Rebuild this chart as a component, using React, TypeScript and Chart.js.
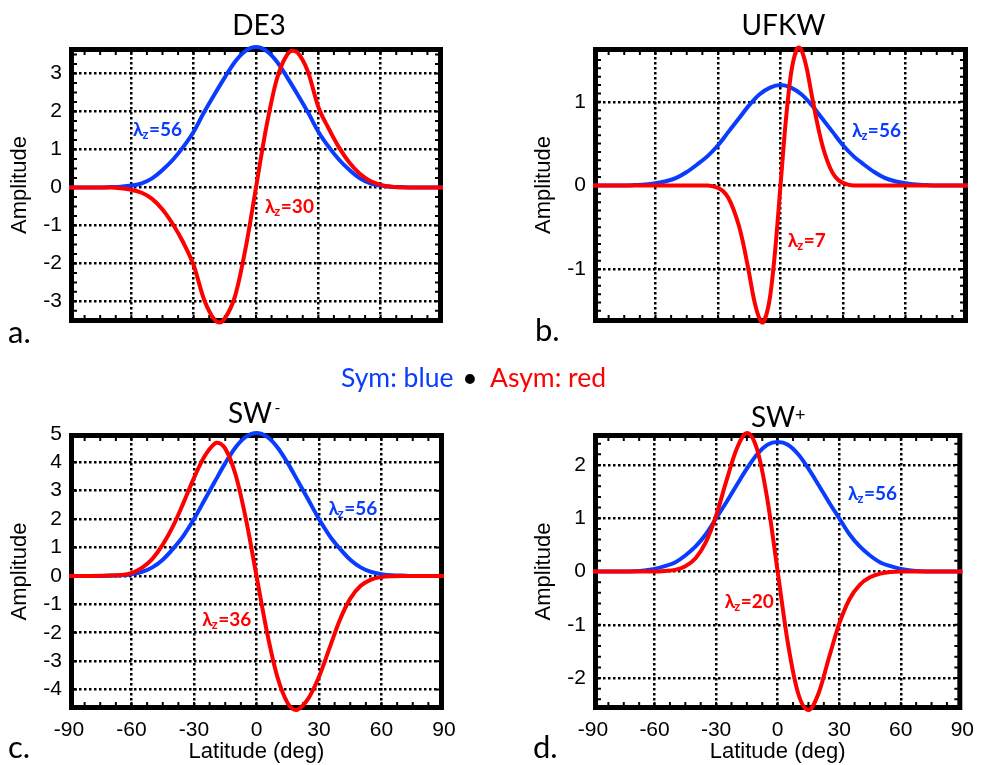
import { useEffect, useRef } from 'react';
import { Chart, registerables } from 'chart.js';

Chart.register(...registerables);

const BLUE = '#0a3cff';
const RED = '#ff0000';
const SANS = 'Lato, "Noto Sans", sans-serif';
const AXIS_FONT = '"Liberation Sans", Arial, sans-serif';
const Y_AXIS_W = 62;

// ---- axis ticks ----
const latTicks = [-90, -60, -30, 0, 30, 60, 90];
const ampTicksDE3 = [-3, -2, -1, 0, 1, 2, 3];
const ampTicksUFKW = [-1, 0, 1];
const ampTicksSWm = [-4, -3, -2, -1, 0, 1, 2, 3, 4, 5];
const ampTicksSWp = [-2, -1, 0, 1, 2];

// ---- symmetric profiles (λz = 56), sampled every 5° ----
const latSym = [-90, -85, -80, -75, -70, -65, -60, -55, -50, -45, -40, -35, -30, -25, -20, -15, -10, -5, 0,
  5, 10, 15, 20, 25, 30, 35, 40, 45, 50, 55, 60, 65, 70, 75, 80, 85, 90];
const symDE3 = [0, 0, 0, 0, 0.01, 0.02, 0.05, 0.11, 0.24, 0.46, 0.73, 1.07, 1.47, 1.98, 2.45, 2.9, 3.32, 3.6, 3.7,
  3.6, 3.32, 2.9, 2.45, 1.98, 1.47, 1.07, 0.73, 0.46, 0.24, 0.11, 0.05, 0.02, 0.01, 0, 0, 0, 0];
const symUFKW = [0, 0, 0, 0, 0.004, 0.01, 0.025, 0.05, 0.09, 0.16, 0.25, 0.35, 0.48, 0.64, 0.8, 0.96, 1.09, 1.17, 1.2,
  1.17, 1.09, 0.96, 0.8, 0.64, 0.48, 0.35, 0.25, 0.16, 0.09, 0.05, 0.025, 0.01, 0.004, 0, 0, 0, 0];
const symSWm = [0, 0, 0, 0, 0.01, 0.02, 0.06, 0.14, 0.3, 0.57, 0.96, 1.42, 2.0, 2.66, 3.32, 3.97, 4.53, 4.9, 5.03,
  4.9, 4.53, 3.97, 3.32, 2.66, 2.0, 1.42, 0.96, 0.57, 0.3, 0.14, 0.06, 0.02, 0.01, 0, 0, 0, 0];
const symSWp = [0, 0, 0, 0, 0.005, 0.02, 0.05, 0.1, 0.17, 0.3, 0.47, 0.7, 1.0, 1.3, 1.62, 1.93, 2.2, 2.38, 2.43,
  2.38, 2.2, 1.93, 1.62, 1.3, 1.0, 0.7, 0.47, 0.3, 0.17, 0.1, 0.05, 0.02, 0.005, 0, 0, 0, 0];

// ---- antisymmetric profiles ----
const latAsymDE3 = [-90, -80, -70, -65, -60, -55, -50, -45, -40, -35, -30, -25, -20, -17.5, -15, -10, -5, 0,
  5, 10, 15, 17.5, 20, 25, 30, 35, 40, 45, 50, 55, 60, 65, 70, 80, 90];
const asymDE3 = [0, 0, 0, -0.02, -0.06, -0.14, -0.3, -0.58, -0.97, -1.45, -2.05, -2.95, -3.48, -3.56, -3.45, -2.85, -1.6, 0,
  1.6, 2.85, 3.5, 3.6, 3.55, 3.05, 2.12, 1.55, 1.05, 0.65, 0.36, 0.17, 0.07, 0.02, 0, 0, 0];

const latAsymUFKW = [-90, -60, -40, -35, -32.5, -30, -27.5, -25, -22.5, -20, -17.5, -15, -12.5, -10, -8.75, -7.5, -5, -2.5, 0,
  2.5, 5, 7.5, 8.75, 10, 12.5, 15, 17.5, 20, 22.5, 25, 27.5, 30, 32.5, 35, 40, 60, 90];
const asymUFKW = [0, 0, 0, 0, -0.01, -0.03, -0.07, -0.15, -0.29, -0.48, -0.74, -1.06, -1.39, -1.6, -1.64, -1.6, -1.33, -0.76, 0,
  0.76, 1.33, 1.61, 1.65, 1.62, 1.41, 1.08, 0.76, 0.49, 0.29, 0.15, 0.07, 0.03, 0.01, 0, 0, 0, 0];

const latAsymSWm = [-90, -80, -70, -65, -60, -55, -50, -45, -40, -35, -30, -25, -20, -19, -15, -10, -5, 0,
  5, 10, 15, 19, 20, 25, 30, 35, 40, 45, 50, 55, 60, 65, 70, 80, 90];
const asymSWm = [0, 0, 0.01, 0.03, 0.1, 0.28, 0.6, 1.1, 1.76, 2.58, 3.45, 4.2, 4.66, 4.69, 4.48, 3.55, 1.97, 0,
  -1.97, -3.55, -4.48, -4.72, -4.7, -4.3, -3.55, -2.55, -1.55, -0.8, -0.35, -0.13, -0.04, -0.01, 0, 0, 0];

const latAsymSWp = [-90, -70, -60, -55, -50, -45, -40, -35, -30, -25, -20, -15, -10, -5, 0,
  5, 10, 15, 20, 25, 30, 35, 40, 45, 50, 55, 60, 70, 90];
const asymSWp = [0, 0, 0, 0.01, 0.03, 0.1, 0.25, 0.55, 1.05, 1.7, 2.3, 2.6, 2.29, 1.35, 0,
  -1.35, -2.29, -2.6, -2.28, -1.62, -0.98, -0.52, -0.25, -0.11, -0.04, -0.01, 0, 0, 0];

type Lbl = { lat: number; amp: number; value: string };
type PanelSpec = {
  title: string;
  sup: string;
  letter: string;
  box: { x: number; y: number; w: number; h: number };
  area: { l: number; t: number; r: number; b: number };
  yMin: number;
  yMax: number;
  yTicks: number[];
  yMinor: number;
  showX: boolean;
  sym: number[];
  asymLat: number[];
  asym: number[];
  symLabel: Lbl;
  asymLabel: Lbl;
  titleAt: { x: number; y: number; align: CanvasTextAlign };
  supAt: { x: number; y: number };
  letterAt: { x: number; y: number };
};

const panels: PanelSpec[] = [
  {
    title: 'DE3', sup: '', letter: 'a.',
    box: { x: 0, y: 0, w: 491, h: 360 },
    area: { l: 69, t: 47, r: 443, b: 323 },
    yMin: -3.57, yMax: 3.7, yTicks: ampTicksDE3, yMinor: 0.25, showX: false,
    sym: symDE3, asymLat: latAsymDE3, asym: asymDE3,
    symLabel: { lat: -59.2, amp: 1.35, value: '56' },
    asymLabel: { lat: 4.3, amp: -0.67, value: '30' },
    titleAt: { x: 259, y: 35, align: 'center' }, supAt: { x: 0, y: 0 },
    letterAt: { x: 8, y: 343 },
  },
  {
    title: 'UFKW', sup: '', letter: 'b.',
    box: { x: 491, y: 0, w: 491, h: 360 },
    area: { l: 593, t: 47, r: 968, b: 323 },
    yMin: -1.645, yMax: 1.655, yTicks: ampTicksUFKW, yMinor: 0.1, showX: false,
    sym: symUFKW, asymLat: latAsymUFKW, asym: asymUFKW,
    symLabel: { lat: 34.3, amp: 0.58, value: '56' },
    asymLabel: { lat: 3.5, amp: -0.74, value: '7' },
    titleAt: { x: 783.5, y: 35, align: 'center' }, supAt: { x: 0, y: 0 },
    letterAt: { x: 535, y: 341 },
  },
  {
    title: 'SW', sup: '-', letter: 'c.',
    box: { x: 0, y: 360, w: 491, h: 405 },
    area: { l: 69, t: 433, r: 444, b: 710 },
    yMin: -4.72, yMax: 5.03, yTicks: ampTicksSWm, yMinor: 1, showX: true,
    sym: symSWm, asymLat: latAsymSWm, asym: asymSWm,
    symLabel: { lat: 34.5, amp: 2.14, value: '56' },
    asymLabel: { lat: -26, amp: -1.76, value: '36' },
    titleAt: { x: 228, y: 423, align: 'left' }, supAt: { x: 274.5, y: 412.5 },
    letterAt: { x: 8, y: 758 },
  },
  {
    title: 'SW', sup: '+', letter: 'd.',
    box: { x: 491, y: 360, w: 491, h: 405 },
    area: { l: 593, t: 433, r: 968, b: 710 },
    yMin: -2.6, yMax: 2.6, yTicks: ampTicksSWp, yMinor: 0.2, showX: true,
    sym: symSWp, asymLat: latAsymSWp, asym: asymSWp,
    symLabel: { lat: 34.3, amp: 1.34, value: '56' },
    asymLabel: { lat: -25.8, amp: -0.69, value: '20' },
    titleAt: { x: 751, y: 426.5, align: 'left' }, supAt: { x: 795, y: 420.5 },
    letterAt: { x: 533, y: 758 },
  },
];

function drawLambda(ctx: CanvasRenderingContext2D, x: number, y: number, value: string, color: string) {
  ctx.fillStyle = color;
  ctx.textAlign = 'left';
  ctx.textBaseline = 'alphabetic';
  ctx.font = `bold 19px ${SANS}`;
  ctx.fillText('λ', x, y);
  const wl = ctx.measureText('λ').width;
  ctx.font = `bold 13px ${SANS}`;
  ctx.fillText('z', x + wl - 1, y + 3);
  const wz = ctx.measureText('z').width;
  ctx.font = `bold 19px ${SANS}`;
  ctx.fillText('=' + value, x + wl - 1 + wz + 0.5, y);
}

function makeDecor(p: PanelSpec) {
  return {
    id: 'panelDecor',
    beforeDatasetsDraw(chart: Chart) {
      const { ctx, chartArea: a } = chart;
      const xs = chart.scales.x;
      const ys = chart.scales.y;
      ctx.save();
      // heavy axes box
      ctx.strokeStyle = '#000';
      ctx.lineWidth = 5;
      ctx.strokeRect(a.left + 2.5, a.top + 2.5, a.width - 5, a.height - 5);
      // inward minor ticks
      ctx.lineWidth = 2;
      ctx.beginPath();
      for (let k = -11; k <= 11; k++) {
        const px = xs.getPixelForValue(k * 7.5);
        ctx.moveTo(px, a.top + 4);
        ctx.lineTo(px, a.top + 8);
        ctx.moveTo(px, a.bottom - 4);
        ctx.lineTo(px, a.bottom - 8);
      }
      const k0 = Math.ceil(p.yMin / p.yMinor - 1e-9);
      const k1 = Math.floor(p.yMax / p.yMinor + 1e-9);
      for (let k = k0; k <= k1; k++) {
        const py = ys.getPixelForValue(k * p.yMinor);
        if (py < a.top + 6 || py > a.bottom - 6) continue;
        ctx.moveTo(a.left + 4, py);
        ctx.lineTo(a.left + 8, py);
        ctx.moveTo(a.right - 4, py);
        ctx.lineTo(a.right - 8, py);
      }
      ctx.stroke();
      ctx.restore();
    },
    afterDatasetsDraw(chart: Chart) {
      const { ctx } = chart;
      const xs = chart.scales.x;
      const ys = chart.scales.y;
      const ox = p.box.x;
      const oy = p.box.y;
      ctx.save();
      drawLambda(ctx, xs.getPixelForValue(p.symLabel.lat), ys.getPixelForValue(p.symLabel.amp), p.symLabel.value, BLUE);
      drawLambda(ctx, xs.getPixelForValue(p.asymLabel.lat), ys.getPixelForValue(p.asymLabel.amp), p.asymLabel.value, RED);
      // panel title
      ctx.fillStyle = '#000';
      ctx.textBaseline = 'alphabetic';
      ctx.font = `28px ${SANS}`;
      ctx.textAlign = p.titleAt.align;
      ctx.fillText(p.title, p.titleAt.x - ox, p.titleAt.y - oy);
      if (p.sup) {
        ctx.textAlign = 'left';
        ctx.font = `${p.sup === '-' ? 16 : 18}px ${SANS}`;
        ctx.fillText(p.sup, p.supAt.x - ox, p.supAt.y - oy);
      }
      // panel letter
      ctx.textAlign = 'left';
      ctx.font = `31px ${SANS}`;
      ctx.fillText(p.letter, p.letterAt.x - ox, p.letterAt.y - oy);
      ctx.restore();
    },
  };
}

function buildConfig(p: PanelSpec): any {
  const bottomGap = p.box.y + p.box.h - p.area.b;
  const padding = {
    left: p.area.l - p.box.x - Y_AXIS_W,
    top: p.area.t - p.box.y,
    right: p.box.x + p.box.w - p.area.r,
    bottom: p.showX ? 0 : bottomGap,
  };
  const gridColor = (c: any) => (c.tick && Math.abs(c.tick.value) === 90 ? 'rgba(0,0,0,0)' : '#000');
  const dots = [2.5, 2.5];
  return {
    type: 'line',
    data: {
      datasets: [
        {
          label: 'Asym',
          data: p.asymLat.map((x, i) => ({ x, y: p.asym[i] })),
          borderColor: RED,
          backgroundColor: RED,
        },
        {
          label: 'Sym',
          data: latSym.map((x, i) => ({ x, y: p.sym[i] })),
          borderColor: BLUE,
          backgroundColor: BLUE,
        },
      ],
    },
    options: {
      responsive: false,
      animation: false,
      devicePixelRatio: 1,
      layout: { padding },
      clip: 4,
      elements: {
        point: { radius: 0, hoverRadius: 0 },
        line: { borderWidth: 4, cubicInterpolationMode: 'monotone', borderJoinStyle: 'round', fill: false },
      },
      plugins: { legend: { display: false }, tooltip: { enabled: false } },
      events: [],
      scales: {
        x: {
          type: 'linear',
          min: -90,
          max: 90,
          afterBuildTicks: (s: any) => {
            s.ticks = latTicks.map((value) => ({ value }));
          },
          afterFit: (s: any) => {
            s.height = p.showX ? bottomGap : 0;
          },
          grid: { color: gridColor, lineWidth: 2.5, drawTicks: false, borderDash: dots },
          border: { display: false, dash: dots },
          ticks: {
            display: p.showX,
            color: '#000',
            font: { family: AXIS_FONT, size: 21 },
            padding: 8,
            maxRotation: 0,
            autoSkip: false,
          },
          title: {
            display: p.showX,
            text: 'Latitude (deg)',
            color: '#000',
            font: { family: AXIS_FONT, size: 22, lineHeight: 1.2 },
            padding: 0,
          },
        },
        y: {
          type: 'linear',
          min: p.yMin,
          max: p.yMax,
          afterBuildTicks: (s: any) => {
            s.ticks = p.yTicks.map((value) => ({ value }));
          },
          afterFit: (s: any) => {
            s.width = Y_AXIS_W;
          },
          grid: { color: '#000', lineWidth: 2.5, drawTicks: false, borderDash: dots },
          border: { display: false, dash: dots },
          ticks: {
            color: '#000',
            font: { family: AXIS_FONT, size: 21 },
            padding: 7,
            autoSkip: false,
          },
          title: {
            display: true,
            text: 'Amplitude',
            color: '#000',
            font: { family: AXIS_FONT, size: 22, lineHeight: 1.2 },
            padding: 0,
          },
        },
      },
    },
    plugins: [makeDecor(p)],
  };
}

function Panel({ spec }: { spec: PanelSpec }) {
  const ref = useRef<HTMLCanvasElement>(null);
  useEffect(() => {
    const chart = new Chart(ref.current as HTMLCanvasElement, buildConfig(spec));
    return () => chart.destroy();
  }, [spec]);
  return (
    <canvas
      ref={ref}
      width={spec.box.w}
      height={spec.box.h}
      style={{ position: 'absolute', left: spec.box.x, top: spec.box.y, width: spec.box.w, height: spec.box.h }}
    />
  );
}

const legendText: React.CSSProperties = {
  position: 'absolute',
  top: 364,
  font: `26.5px ${SANS}`,
  lineHeight: '26px',
  whiteSpace: 'nowrap',
};

export default function App() {
  return (
    <div
      style={{
        position: 'absolute',
        left: 0,
        top: 0,
        width: 982,
        height: 765,
        background: '#fff',
        overflow: 'hidden',
      }}
    >
      {panels.map((p) => (
        <Panel key={p.letter} spec={p} />
      ))}
      <div style={{ ...legendText, left: 341, color: BLUE }}>Sym: blue</div>
      <div style={{ ...legendText, left: 460, width: 20, textAlign: 'center', color: '#000' }}>•</div>
      <div style={{ ...legendText, left: 490, color: RED }}>Asym: red</div>
    </div>
  );
}
